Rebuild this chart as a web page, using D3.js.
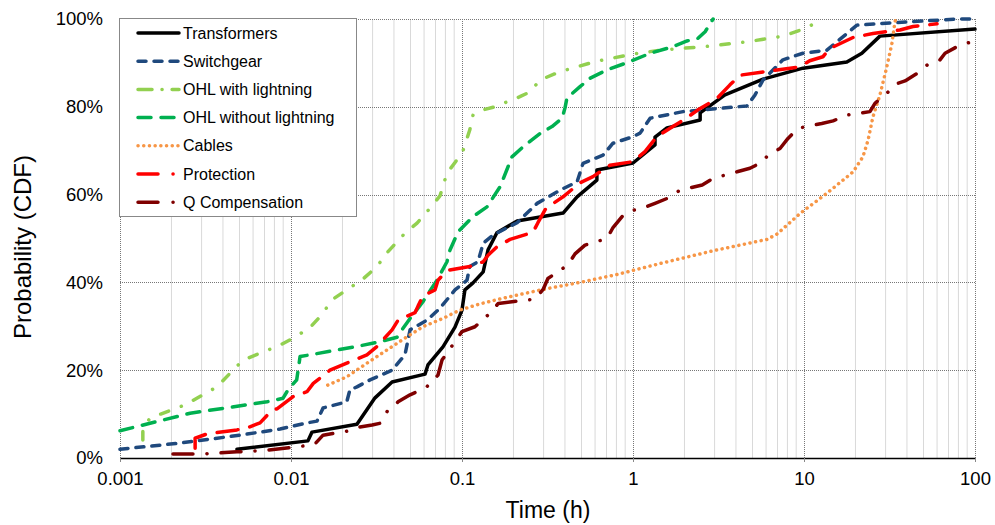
<!DOCTYPE html>
<html>
<head>
<meta charset="utf-8">
<style>
  body { margin: 0; background: #fff; }
  svg text { font-family: "Liberation Sans", Arial, sans-serif; fill: #000; }
  .minor { stroke: #d9d9d9; stroke-width: 1px; }
  .major { stroke: #777; stroke-width: 1px; stroke-dasharray: 1,1; }
  .curve { fill: none; stroke-width: 3.5px; stroke-linecap: round; stroke-linejoin: round; }
</style>
</head>
<body>
<script src="https://cdn.jsdelivr.net/npm/d3@7"></script>
<script>
// time (h), probability (%)
var transformers = [[0.00483,2.0],[0.01256,3.9],[0.01327,5.9],[0.0243,7.7],[0.031,13.7],[0.039,17.3],[0.0608,19.1],
  [0.0632,21.2],[0.0774,25.3],[0.091,29.8],[0.1,33.7],[0.104,38.3],[0.116,39.9],[0.133,42.4],[0.142,47.4],[0.16,51.3],
  [0.21,54.0],[0.39,55.8],[0.471,59.5],[0.615,63.3],[0.615,65.6],[1.0,67.2],[1.345,71.3],[1.345,73.1],[1.58,75.2],
  [2.47,77.0],[2.47,78.6],[3.45,82.7],[5.76,86.3],[9.86,88.8],[17.8,90.2],[21.8,92.2],[27.8,96.1],[100,97.7]];

var switchgear = [[0.001,2.0],[0.00224,3.4],[0.00503,5.2],[0.00863,6.6],[0.0124,8.0],[0.0142,8.4],[0.0154,11.4],
  [0.0212,12.8],[0.0221,15.5],[0.0243,16.2],[0.029,17.8],[0.039,20.0],[0.0464,23.5],[0.0497,29.2],[0.0624,31.4],
  [0.0743,34.1],[0.091,38.3],[0.107,40.5],[0.111,43.6],[0.124,44.7],[0.133,48.9],[0.152,50.8],[0.21,53.6],
  [0.275,58.0],[0.374,61.0],[0.471,62.9],[0.51,67.1],[0.668,69.0],[0.764,71.7],[1.0,73.2],[1.1,74.0],[1.26,77.4],
  [1.96,78.9],[4.64,80.2],[5.17,82.7],[5.76,86.1],[7.53,90.7],[9.86,92.2],[13.6,92.9],[20.4,98.6],[31.8,99.1],
  [78.5,100],[100,100]];

var ohlLightning = [[0.00136,4.1],[0.00136,6.8],[0.0015,9.1],[0.0024,12.1],[0.00369,16.2],[0.00458,20],[0.00524,22.3],
  [0.00863,25.7],[0.0103,27.3],[0.0129,29.7],[0.0148,32.2],[0.0176,36.2],[0.0212,38.3],[0.0264,40.8],[0.0318,43.6],
  [0.0369,47],[0.0464,51.2],[0.0546,53.5],[0.065,56.9],[0.0743,59.7],[0.0817,64.9],[0.091,67.3],[0.101,69.8],
  [0.111,74.7],[0.116,78.1],[0.133,79.3],[0.156,80],[0.218,82.3],[0.25,83.4],[0.286,86.1],[0.374,88],[0.615,90.4],
  [1.0,92],[1.44,92.9],[2.75,93.8],[4.64,94.8],[7.53,96.1],[10.4,98.0],[12.7,100]];

var ohlNoLightning = [[0.001,6.2],[0.00257,10.2],[0.00724,12.8],[0.00897,13.6],[0.0096,15.5],[0.0108,17.8],
  [0.0113,23.1],[0.0243,25.4],[0.0331,26.5],[0.0417,27.5],[0.0446,29.2],[0.0497,31.8],[0.0591,35.6],[0.0714,40.5],
  [0.0817,44.7],[0.0851,47.4],[0.0948,51.5],[0.116,55],[0.14,57.2],[0.167,61.8],[0.196,68.6],[0.228,70.9],
  [0.286,73.9],[0.336,75.5],[0.385,77.4],[0.40,79.7],[0.411,82],[0.49,84.6],[0.561,86.5],[0.705,88.4],[0.96,90.3],
  [1.26,92.2],[1.71,93.7],[2.07,95],[2.40,95.6],[2.64,97.1],[2.94,100]];

var cables = [[0.0164,16.6],[0.0212,18.5],[0.0278,21.6],[0.0364,24.6],[0.0476,27.6],[0.0591,29.9],[0.0774,31.8],
  [0.0973,33.7],[0.127,35.1],[0.174,36.4],[0.298,38.4],[0.49,40],[0.805,41.8],[1.44,44.3],[2.94,47.2],[6.08,49.8],
  [6.95,51],[9.48,55.7],[13.6,60.3],[19.4,65.2],[22.1,68.6],[23.7,72.4],[25.3,77.7],[27.8,82.7],[30.5,89.1],
  [32.7,94.5],[34.0,99.3],[34.5,100]];

var protection = [[0.00275,2.2],[0.00275,4.5],[0.00323,5.5],[0.00483,6.4],[0.00575,7.1],[0.00659,8.0],[0.00774,10.9],
  [0.00828,11.2],[0.0103,14],[0.0124,15.1],[0.0135,17],[0.0169,20],[0.0212,21.6],[0.0278,23.5],[0.0318,25.4],
  [0.039,29.2],[0.0423,31.4],[0.0531,33.1],[0.0553,34.6],[0.0591,36.9],[0.0695,38.3],[0.0724,40.5],[0.0817,42.7],
  [0.111,43.6],[0.133,44.7],[0.142,46.2],[0.16,48.1],[0.191,49.8],[0.26,51.4],[0.278,53.6],[0.31,56.9],[0.39,59.5],
  [0.49,62.7],[0.583,64.1],[0.733,66.7],[1.0,67.5],[1.175,69.8],[1.38,73.2],[1.71,75.5],[2.01,77.2],[2.40,79.3],
  [3.10,81.9],[3.69,85],[4.23,87.2],[6.95,88.4],[9.48,89.1],[10.8,90.5],[12.9,91.4],[14.2,93.3],[19.4,95.8],
  [25.3,96.7],[36.4,97.5],[43.4,98.3],[60,98.9]];

var qComp = [[0.00204,0.9],[0.00294,0.9],[0.00483,1.4],[0.00686,1.7],[0.0113,2.6],[0.0138,3.2],[0.0154,5.2],
  [0.0212,6.1],[0.0247,7.0],[0.0298,7.5],[0.0331,7.9],[0.0369,10.9],[0.0423,12.8],[0.0497,14.4],[0.0608,15.9],
  [0.065,16.9],[0.0724,18.9],[0.0764,22.3],[0.091,26.5],[0.1,28.8],[0.119,29.9],[0.146,33],[0.163,35.2],[0.196,35.6],
  [0.267,36.2],[0.298,38.4],[0.318,40.9],[0.417,44],[0.458,46.5],[0.524,48.5],[0.705,50],[0.764,52.5],[0.863,55],
  [0.96,56.3],[1.14,56.9],[1.345,58],[1.60,59.2],[1.88,61],[2.54,62.2],[2.94,63.7],[4.06,65.2],[4.83,66],[5.76,67.5],
  [6.15,69],[7.24,70.5],[8.06,72.8],[9.22,75.1],[12.7,76.2],[14.8,76.8],[17.8,78.1],[24.3,78.9],[26.0,80.8],
  [30.5,83.1],[35.0,85.3],[39.0,85.9],[45.8,87.6],[52.4,89.5],[62.4,90.7],[66.8,92.2],[78.5,93.7],[100,95.1]];

var seriesNames = ["Transformers", "Switchgear", "OHL with lightning", "OHL without lightning", "Cables", "Protection", "Q Compensation"];
var seriesData = [transformers, switchgear, ohlLightning, ohlNoLightning, cables, protection, qComp];
var seriesColors = ["#000000", "#1f497d", "#92d050", "#00b050", "#f79646", "#ff0000", "#7f0000"];
var seriesDash = ["none", "8,8", "8.5,13.5,0.1,13.5", "13,10", "0.1,5.6", "21,12", "20,14,0.1,14"];
var legendDash = ["none", "8,8", "14,10,0.1,10", "13,10", "0.1,5.6", "20,15,0.1,15", "20,15,0.1,15"];

var xTicks = [0.001, 0.01, 0.1, 1, 10, 100];
var yTicks = [0, 20, 40, 60, 80, 100];

var W = 995, H = 525;
var x = d3.scaleLog().domain([0.001, 100]).range([120, 975]);
var y = d3.scaleLinear().domain([0, 100]).range([458, 19]);

var svg = d3.select("body").append("svg").attr("width", W).attr("height", H);

// minor vertical grid
var minor = [];
xTicks.slice(0, -1).forEach(function (d) {
  for (var k = 2; k <= 9; k++) minor.push(d * k);
});
svg.append("g").selectAll("line").data(minor).join("line")
    .attr("class", "minor")
    .attr("x1", function (d) { return x(d); }).attr("x2", function (d) { return x(d); })
    .attr("y1", y(100)).attr("y2", y(0));

// major grid
svg.append("g").selectAll("line").data(xTicks).join("line")
    .attr("class", "major")
    .attr("x1", function (d) { return Math.round(x(d)) + 0.5; }).attr("x2", function (d) { return Math.round(x(d)) + 0.5; })
    .attr("y1", y(100)).attr("y2", y(0));
svg.append("g").selectAll("line").data(yTicks.slice(1)).join("line")
    .attr("class", "major")
    .attr("x1", x(0.001)).attr("x2", x(100))
    .attr("y1", function (d) { return Math.round(y(d)) + 0.5; }).attr("y2", function (d) { return Math.round(y(d)) + 0.5; });

// x axis
var xAxis = d3.axisBottom(x).tickValues(xTicks).tickSize(4).tickSizeOuter(0)
    .tickFormat(function (d) { return String(d); });
var gx = svg.append("g").attr("transform", "translate(0," + y(0) + ")").call(xAxis);
gx.select(".domain").attr("stroke", "#000").attr("stroke-width", 1.5);
gx.selectAll(".tick line").attr("stroke", "#888");
gx.selectAll(".tick text").attr("y", 14).style("font-size", "18.5px");

// y axis labels
var yAxis = d3.axisLeft(y).tickValues(yTicks).tickSize(0)
    .tickFormat(function (d) { return d + "%"; });
var gy = svg.append("g").attr("transform", "translate(" + x(0.001) + ",0)").call(yAxis);
gy.select(".domain").remove();
gy.selectAll(".tick text").attr("x", -17).style("font-size", "18.5px");

// axis titles
svg.append("text").attr("x", 548).attr("y", 518).attr("text-anchor", "middle")
    .style("font-size", "23px").text("Time (h)");
svg.append("text").attr("transform", "translate(31,247) rotate(-90)").attr("text-anchor", "middle")
    .style("font-size", "24px").text("Probability (CDF)");

// curves
var line = d3.line()
    .x(function (d) { return x(d[0]); })
    .y(function (d) { return y(d[1]); });

seriesData.forEach(function (data, i) {
  svg.append("path")
      .attr("class", "curve")
      .attr("d", line(data))
      .style("stroke", seriesColors[i])
      .style("stroke-dasharray", seriesDash[i]);
});

// legend
var lg = svg.append("g");
lg.append("rect").attr("x", 119.5).attr("y", 18.5).attr("width", 237).attr("height", 198)
    .attr("fill", "#fff").attr("stroke", "#888");
seriesNames.forEach(function (name, i) {
  var ly = 33 + i * 28.2;
  lg.append("line").attr("class", "curve")
      .attr("x1", 138).attr("x2", 179).attr("y1", ly).attr("y2", ly)
      .style("stroke", seriesColors[i])
      .style("stroke-dasharray", legendDash[i]);
  lg.append("text").attr("x", 183).attr("y", ly).attr("dy", "0.35em")
      .style("font-size", "16px").text(name);
});
</script>
</body>
</html>
